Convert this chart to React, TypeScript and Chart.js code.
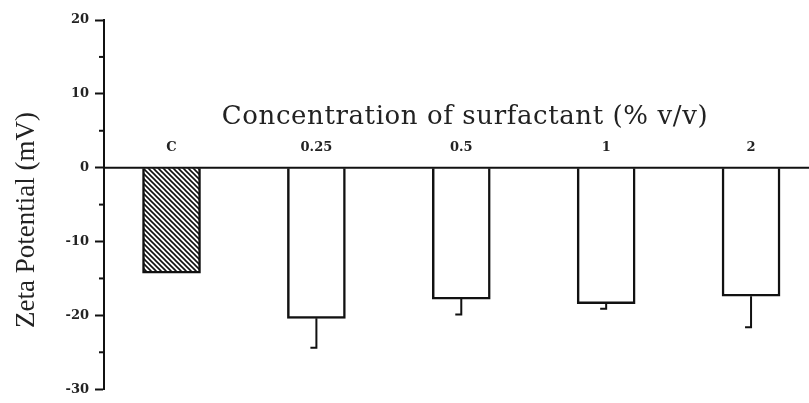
import React, { useEffect, useRef } from "react";
import { Chart, registerables } from "chart.js";

Chart.register(...registerables);

const categories = ["C", "0.25", "0.5", "1", "2"];
const zetaValues = [-14.3, -20.4, -17.8, -18.4, -17.4];
const zetaErrors = [0, 4.0, 2.1, 0.7, 4.2];
const yTickValues = [20, 10, 0, -10, -20, -30];
const yMinorTicks = [15, 5, -5, -15, -25];
const xTitle = "Concentration of surfactant (% v/v)";
const yTitle = "Zeta Potential (mV)";

function makeHatch(): CanvasPattern | string {
  const pc = document.createElement("canvas");
  pc.width = 5;
  pc.height = 5;
  const c = pc.getContext("2d");
  if (!c) return "#666";
  c.fillStyle = "#ffffff";
  c.fillRect(0, 0, 5, 5);
  c.strokeStyle = "#111";
  c.lineWidth = 1.6;
  c.beginPath();
  c.moveTo(-1, -1);
  c.lineTo(6, 6);
  c.moveTo(-1, 4);
  c.lineTo(1, 6);
  c.moveTo(4, -1);
  c.lineTo(6, 1);
  c.stroke();
  const p = c.createPattern(pc, "repeat");
  return p || "#666";
}

export default function App() {
  const ref = useRef<HTMLCanvasElement | null>(null);

  useEffect(() => {
    document.body.style.margin = "0";
    const canvas = ref.current;
    if (!canvas) return;
    const hatch = makeHatch();

    const overlay = {
      id: "overlay",
      afterDatasetsDraw(chart: any) {
        const ctx = chart.ctx;
        const xs = chart.scales.x;
        const ys = chart.scales.y;
        const area = chart.chartArea;
        ctx.save();
        // zero line
        const y0 = ys.getPixelForValue(0);
        ctx.strokeStyle = "#111";
        ctx.lineWidth = 2;
        ctx.beginPath();
        ctx.moveTo(area.left, y0);
        ctx.lineTo(chart.width, y0);
        ctx.stroke();
        // minor ticks
        yMinorTicks.forEach((v) => {
          const y = ys.getPixelForValue(v);
          ctx.beginPath();
          ctx.moveTo(area.left - 5, y);
          ctx.lineTo(area.left, y);
          ctx.stroke();
        });
        // error bars (one-sided, downward, cap to the left)
        zetaValues.forEach((v, i) => {
          const e = zetaErrors[i];
          if (!e) return;
          const x = xs.getPixelForValue(i);
          const yb = ys.getPixelForValue(v);
          const ye = ys.getPixelForValue(v - e);
          ctx.beginPath();
          ctx.moveTo(x, yb);
          ctx.lineTo(x, ye);
          ctx.lineTo(x - 6, ye);
          ctx.stroke();
        });
        // category labels above the zero line
        ctx.fillStyle = "#222";
        ctx.font = "bold 13px 'DejaVu Serif'";
        ctx.textAlign = "center";
        ctx.textBaseline = "middle";
        categories.forEach((c, i) => {
          ctx.fillText(c, xs.getPixelForValue(i), 148);
        });
        // title
        ctx.font = "26px 'DejaVu Serif'";
        (ctx as any).letterSpacing = "0.6px";
        ctx.fillText(xTitle, 465, 117);
        (ctx as any).letterSpacing = "0px";
        // y title
        ctx.translate(27, 220);
        ctx.rotate(-Math.PI / 2);
        ctx.font = "27px 'Liberation Serif'";
        ctx.fillText(yTitle, 0, 0);
        ctx.restore();
      },
    };

    const chart = new Chart(canvas, {
      type: "bar",
      data: {
        datasets: [
          {
            data: zetaValues.map((v, i) => ({ x: i, y: v })),
            backgroundColor: zetaValues.map((_, i) => (i === 0 ? hatch : "#ffffff")) as any,
            borderColor: "#111",
            borderWidth: 2.5,
            barThickness: 58,
          },
        ],
      },
      options: {
        responsive: false,
        animation: false,
        layout: { padding: { left: 0, right: 0, top: 20, bottom: 11 } },
        plugins: { legend: { display: false }, tooltip: { enabled: false } },
        scales: {
          x: {
            type: "linear",
            min: -0.466,
            max: 4.4,
            offset: false,
            display: false,
          },
          y: {
            min: -30,
            max: 20,
            afterFit: (s: any) => {
              s.width = 104;
            },
            afterBuildTicks: (s: any) => {
              s.ticks = yTickValues.map((v) => ({ value: v }));
            },
            border: { display: true, color: "#111", width: 2 },
            grid: {
              drawOnChartArea: false,
              drawTicks: true,
              tickLength: 9,
              tickWidth: 2,
              tickColor: "#111",
            },
            ticks: {
              padding: 6,
              color: "#222",
              font: { family: "'DejaVu Serif'", size: 13, weight: "bold" },
            },
          },
        },
      },
      plugins: [overlay],
    });
    return () => chart.destroy();
  }, []);

  return <canvas ref={ref} width={809} height={403} style={{ display: "block" }} />;
}
